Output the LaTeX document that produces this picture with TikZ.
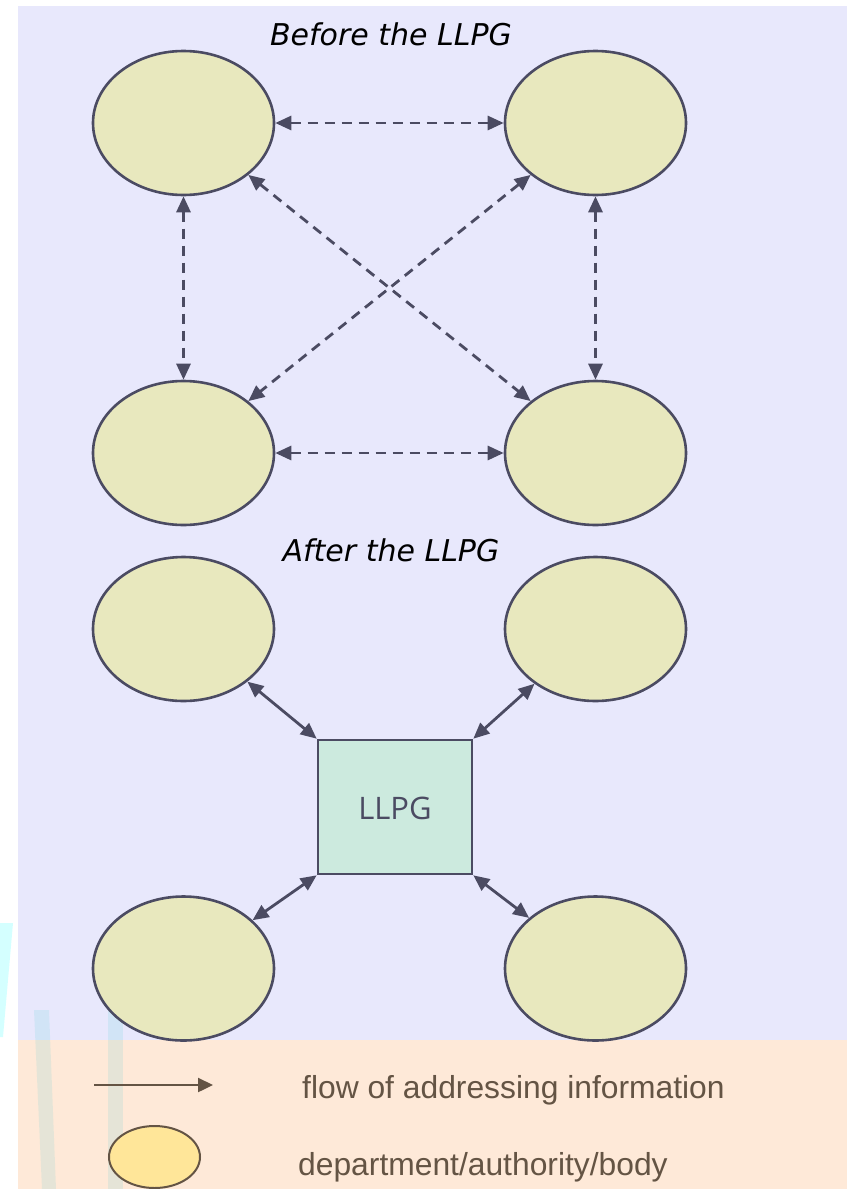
\documentclass[tikz,border=0pt]{standalone}
\usepackage{fontspec}
\usetikzlibrary{shapes.geometric,arrows.meta}
\newfontfamily\titlefont{DejaVu Sans}
\newfontfamily\legendfont{Liberation Sans}
\newfontfamily\boxfont{Open Sans}
\definecolor{bglav}{RGB}{232,232,252}
\definecolor{bgpeach}{RGB}{254,233,216}
\definecolor{ellC}{RGB}{232,232,190}
\definecolor{boxC}{RGB}{204,234,222}
\definecolor{lineC}{RGB}{75,75,98}
\definecolor{brownC}{RGB}{100,84,68}
\definecolor{legellC}{RGB}{255,230,153}
\definecolor{stripC}{RGB}{50,200,210}
\definecolor{cyanC}{RGB}{212,255,255}
\begin{document}
\begin{tikzpicture}[x=1pt,y=-1pt,
  dept/.style={ellipse, draw=lineC, fill=ellC, line width=2.6pt, minimum width=181pt, minimum height=144pt, inner sep=0pt},
  hub/.style={rectangle, draw=lineC, fill=boxC, line width=2.6pt, minimum width=154pt, minimum height=134pt, inner sep=0pt},
  link/.style={draw=lineC, line width=2.8pt, {Triangle[length=16pt,width=14pt]}-{Triangle[length=16pt,width=14pt]}},
  dlink/.style={link, dash pattern=on 10pt off 7pt},
  title/.style={font=\titlefont\itshape\fontsize{30}{36}\selectfont, text=black, inner sep=0pt, anchor=base},
  legtext/.style={font=\legendfont\fontsize{31.8}{38}\selectfont, text=brownC, inner sep=0pt, anchor=base west}]
\useasboundingbox (0,0) rectangle (847,1189);
\fill[white] (0,0) rectangle (847,1189);
% backgrounds
\fill[bglav] (18,6) rectangle (847,1040);
\fill[bgpeach] (18,1040) rectangle (847,1189);
% faint strips
\fill[cyanC] (0,923) -- (13,923) -- (3,1037) -- (0,1037) -- cycle;
\fill[stripC, opacity=0.12] (34,1010) -- (49,1010) -- (56,1189) -- (42,1189) -- cycle;
\fill[stripC, opacity=0.12] (108,1010) -- (123,1010) -- (123,1189) -- (108,1189) -- cycle;
% titles
\node[title] (t1) at (391,45) {Before the LLPG};
\node[title] (t2) at (391,561) {After the LLPG};
% before
\node[dept] (a1) at (183.5,123) {};
\node[dept] (b1) at (595.5,123) {};
\node[dept] (c1) at (183.5,453) {};
\node[dept] (d1) at (595.5,453) {};
\draw[dlink] (a1) -- (b1);
\draw[dlink] (c1) -- (d1);
\draw[dlink] (a1) -- (c1);
\draw[dlink] (b1) -- (d1);
\draw[dlink] (a1) -- (d1);
\draw[dlink] (b1) -- (c1);
% after
\node[dept] (a2) at (183.5,629) {};
\node[dept] (b2) at (595.5,629) {};
\node[dept] (c2) at (183.5,968.5) {};
\node[dept] (d2) at (595.5,968.5) {};
\node[hub] (hub) at (395,807) {};
\node[font=\boxfont\fontsize{31}{37}\selectfont, text=lineC, inner sep=0pt, anchor=base] (hubl) at (395,819) {LLPG};
\draw[link] (a2) -- (hub.north west);
\draw[link] (b2) -- (hub.north east);
\draw[link] (c2) -- (hub.south west);
\draw[link] (d2) -- (hub.south east);
% legend
\coordinate (la) at (94,1085);
\coordinate (lb) at (213,1085);
\draw[draw=brownC, line width=2.4pt, -{Triangle[length=15pt,width=14pt]}] (la) -- (lb);
\node[ellipse, draw=brownC, fill=legellC, line width=2pt, minimum width=91pt, minimum height=62pt, inner sep=0pt] (le) at (154.5,1157) {};
\node[legtext] (l1) at (302,1098) {flow of addressing information};
\node[legtext] (l2) at (298,1175) {department/authority/body};
\end{tikzpicture}
\end{document}
